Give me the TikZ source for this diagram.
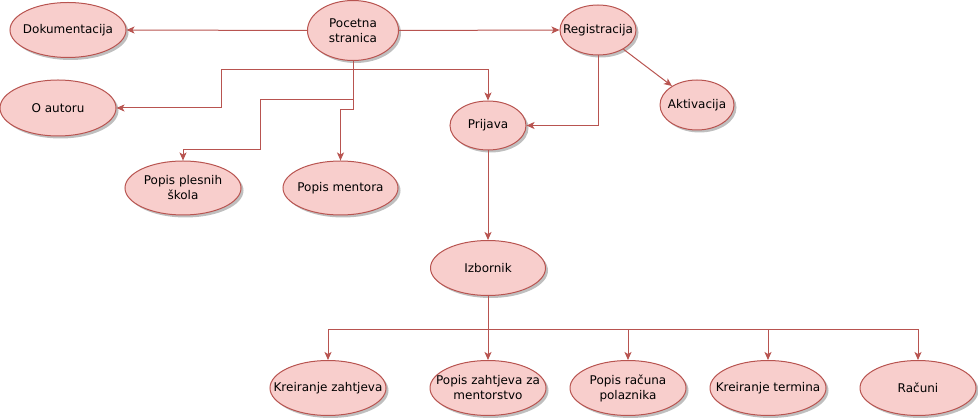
\documentclass[tikz,border=0pt]{standalone}
\usepackage{fontspec}
\setmainfont{DejaVu Sans}
\usetikzlibrary{shapes.geometric,arrows.meta,shadows}
\definecolor{nfill}{HTML}{F8CECC}
\definecolor{nline}{HTML}{B85450}
\begin{document}
\begin{tikzpicture}[x=1pt,y=-1pt,
  usecase/.style={ellipse,draw=nline,fill=nfill,line width=1pt,inner xsep=-25pt,inner ysep=-8pt,
    align=center,font=\fontsize{12}{15}\selectfont,
    drop shadow={shadow xshift=2.5pt,shadow yshift=-2.5pt,opacity=0.25,fill=black}},
  edge/.style={draw=nline,line width=1pt,-{Stealth[length=8pt,width=7pt,inset=2pt]}}]
\useasboundingbox (0,0) rectangle (978,419);
\node[usecase,minimum width=116pt,minimum height=55pt] (dok) at (68,30) {Dokumentacija};
\node[usecase,minimum width=91pt,minimum height=60pt] (poc) at (353,30.5) {Pocetna\\stranica};
\node[usecase,minimum width=76pt,minimum height=50pt] (reg) at (598,30) {Registracija};
\node[usecase,minimum width=116pt,minimum height=56pt] (aut) at (58,108) {O autoru};
\node[usecase,minimum width=74pt,minimum height=50pt] (akt) at (697,105) {Aktivacija};
\node[usecase,minimum width=76pt,minimum height=49pt] (pri) at (488,125.5) {Prijava};
\node[usecase,minimum width=116pt,minimum height=54pt] (ple) at (183,188) {Popis plesnih\\škola};
\node[usecase,minimum width=115pt,minimum height=54pt] (men) at (340.5,188) {Popis mentora};
\node[usecase,minimum width=115pt,minimum height=55pt] (izb) at (488,268) {Izbornik};
\node[usecase,minimum width=116pt,minimum height=55pt] (k1) at (328,388) {Kreiranje zahtjeva};
\node[usecase,minimum width=116pt,minimum height=55pt] (k2) at (488,388) {Popis zahtjeva za\\mentorstvo};
\node[usecase,minimum width=116pt,minimum height=55pt] (k3) at (628,388) {Popis računa\\polaznika};
\node[usecase,minimum width=116pt,minimum height=55pt] (k4) at (768,388) {Kreiranje termina};
\node[usecase,minimum width=116pt,minimum height=55pt] (k5) at (918,388) {Računi};
\coordinate (hub) at (488,330);
\draw[edge] (poc.west) -- (dok.east);
\draw[edge] (poc.east) -- (reg.west);
\draw[edge] (poc.south) |- (221,70) -- (221,108) -- (aut.east);
\draw[edge] (poc.south) |- (488,70) -- (pri.north);
\draw[edge] (poc.south) |- (340.5,110) -- (men.north);
\draw[edge] (poc.south) |- (260,100) |- (183,150) -- (ple.north);
\draw[edge] (reg.south) |- (pri.east);
\draw[edge] (reg) -- (akt);
\draw[edge] (pri) -- (izb);
\draw[edge] (izb.south) -- (hub) -| (k1.north);
\draw[edge] (izb.south) -- (k2.north);
\draw[edge] (hub) -| (k3.north);
\draw[edge] (hub) -| (k4.north);
\draw[edge] (hub) -| (k5.north);
\end{tikzpicture}
\end{document}
